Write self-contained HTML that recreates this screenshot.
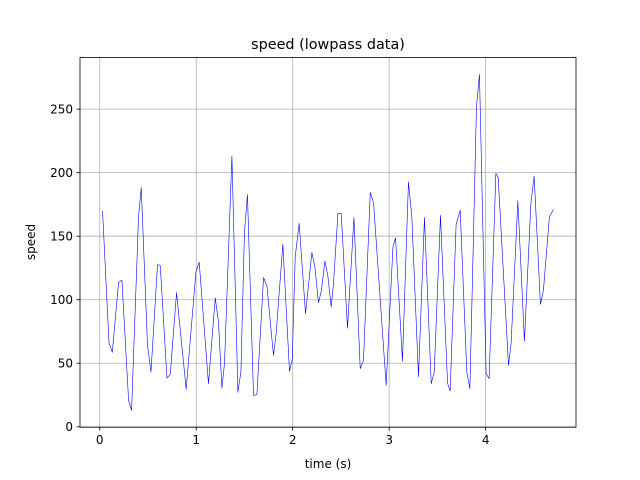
<!DOCTYPE html>
<html><head><meta charset="utf-8"><style>
body{margin:0;background:#fff}
svg{display:block;font-family:"DejaVu Sans","Liberation Sans",sans-serif}
</style></head><body>
<svg id="chart" width="640" height="480" viewBox="0 0 640 480">
<rect width="640" height="480" fill="#fff"/>
<g id="grid"></g>
<g id="series"></g>
<rect x="80" y="57.6" width="496" height="369.6" fill="none" stroke="#000" stroke-width="0.8"/>
<g id="ticks"></g>
<text x="328" y="49" text-anchor="middle" font-size="14.4">speed (lowpass data)</text>
<text x="328" y="468" text-anchor="middle" font-size="12">time (s)</text>
<text x="35" y="242" text-anchor="middle" font-size="12" transform="rotate(-90 35 242)">speed</text>
</svg>
<script>
const times=[0.029,0.096,0.130,0.195,0.230,0.299,0.330,0.402,0.430,0.495,0.531,0.599,0.627,0.697,0.731,0.796,0.896,0.997,1.031,1.127,1.197,1.231,1.266,1.293,1.370,1.432,1.463,1.500,1.531,1.594,1.629,1.698,1.733,1.801,1.829,1.898,1.967,1.995,2.026,2.067,2.133,2.199,2.230,2.267,2.298,2.334,2.365,2.399,2.423,2.469,2.503,2.568,2.635,2.700,2.734,2.804,2.838,2.969,3.039,3.066,3.138,3.200,3.235,3.304,3.366,3.436,3.467,3.532,3.605,3.632,3.694,3.736,3.805,3.837,3.905,3.936,4.005,4.036,4.106,4.130,4.237,4.264,4.334,4.402,4.469,4.503,4.568,4.599,4.661,4.703];
const speeds=[169.9,65.9,58.6,113.5,115.3,20.8,12.9,165.2,188.3,64.1,43.1,127.7,126.9,38.4,41.3,105.6,29.5,121.9,129.5,33.9,101.4,82.5,30.5,49.7,213.0,27.1,43.1,153.4,182.8,24.7,25.3,117.4,110.8,56.2,73.8,143.7,43.6,52.9,133.7,160.0,89.1,137.1,125.8,97.7,107.4,130.3,118.5,94.3,112.7,167.8,167.8,77.7,164.7,45.8,52.3,184.4,176.5,32.6,141.5,148.6,51.7,192.7,165.2,39.5,164.7,33.9,43.1,166.3,34.4,28.1,159.2,170.4,43.1,30.0,251.8,277.3,41.8,37.9,199.4,196.2,48.4,65.5,177.8,67.3,175.7,197.2,96.4,107.4,165.2,171.0];
const xTicks=[0,1,2,3,4];
const yTicks=[0,50,100,150,200,250];
const NS="http://www.w3.org/2000/svg";
const L=80,R=576,T=57.6,B=427.2;
const tmin=Math.min(...times),tmax=Math.max(...times),vmin=Math.min(...speeds),vmax=Math.max(...speeds);
const xlo=tmin-0.05*(tmax-tmin),xhi=tmax+0.05*(tmax-tmin);
const ylo=vmin-0.05*(vmax-vmin),yhi=vmax+0.05*(vmax-vmin);
const sx=t=>L+(t-xlo)/(xhi-xlo)*(R-L);
const sy=v=>B-(v-ylo)/(yhi-ylo)*(B-T);
function mk(tag,attrs,parent){const e=document.createElementNS(NS,tag);for(const k in attrs)e.setAttribute(k,attrs[k]);parent.appendChild(e);return e;}
const grid=document.getElementById('grid'),ticks=document.getElementById('ticks');
xTicks.forEach(t=>{const x=sx(t);
 const g=mk('line',{x1:x,x2:x,y1:T,y2:B,stroke:'#b0b0b0','stroke-width':0.8},grid);
 
 
 const k=mk('line',{x1:x,x2:x,y1:B,y2:B+3.5,stroke:'#000','stroke-width':0.8},ticks);
 
 
 const tx=mk('text',{x:x,y:B+17,'text-anchor':'middle','font-size':12},ticks);tx.textContent=t;
 
 
});
yTicks.forEach(v=>{const y=sy(v);
 const g=mk('line',{x1:L,x2:R,y1:y,y2:y,stroke:'#b0b0b0','stroke-width':0.8},grid);
 
 
 const k=mk('line',{x1:L-3.5,x2:L,y1:y,y2:y,stroke:'#000','stroke-width':0.8},ticks);
 
 
 const tx=mk('text',{x:L-7,y:y+4.3,'text-anchor':'end','font-size':12},ticks);tx.textContent=v;
 
 
});
const pts=times.map((t,i)=>sx(t).toFixed(2)+','+sy(speeds[i]).toFixed(2)).join(' ');
const line=mk('polyline',{points:pts,fill:'none',stroke:'#0000ff','stroke-width':0.6,'stroke-linejoin':'round'},document.getElementById('series'));


</script>
</body></html>
